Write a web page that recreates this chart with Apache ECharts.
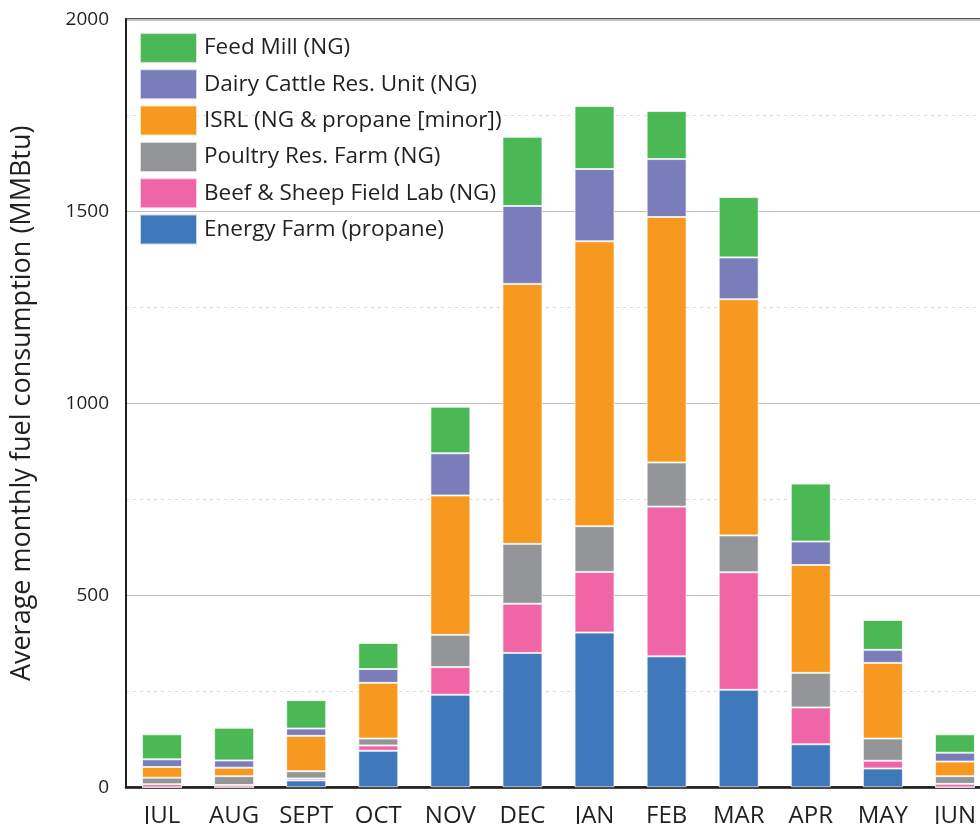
<!DOCTYPE html>
<html>
<head>
<meta charset="utf-8">
<script src="https://cdn.jsdelivr.net/npm/echarts@6/dist/echarts.min.js"></script>
<style>
html,body{margin:0;padding:0;background:#fff;}
#c{width:980px;height:824px;}
</style>
</head>
<body>
<div id="c"></div>
<script>
const months = ['JUL','AUG','SEPT','OCT','NOV','DEC','JAN','FEB','MAR','APR','MAY','JUN'];
const energyFarm = [0, 0, 18, 95, 241, 350, 403, 341, 254, 112, 49, 0];
const beefSheep  = [8, 6, 5, 14, 72, 128, 158, 390, 306, 96, 20, 9];
const poultry    = [17, 23, 19, 18, 84, 156, 119, 115, 96, 90, 58, 20];
const isrl       = [28, 22, 92, 145, 363, 677, 742, 639, 615, 281, 197, 38];
const dairy      = [20, 19, 19, 36, 110, 203, 188, 151, 109, 61, 34, 23];
const feedMill   = [65, 85, 74, 68, 121, 180, 164, 125, 157, 151, 78, 48];
const yTicks = [0, 500, 1000, 1500, 2000];

const names = {
  feed: 'Feed Mill (NG)',
  dairy: 'Dairy Cattle Res. Unit (NG)',
  isrl: 'ISRL (NG & propane [minor])',
  poultry: 'Poultry Res. Farm (NG)',
  beef: 'Beef & Sheep Field Lab (NG)',
  energy: 'Energy Farm (propane)'
};
const FONT = '"Open Sans", "Noto Sans", sans-serif';
const TXT = '#231f20';

function mk(name, data, color) {
  return {
    name, type: 'bar', stack: 'total', data, barWidth: 40,
    itemStyle: { color, borderColor: 'rgba(255,255,255,0.7)', borderWidth: 1 }
  };
}

const chart = echarts.init(document.getElementById('c'));
chart.setOption({
  animation: false,
  backgroundColor: '#fff',
  textStyle: { fontFamily: FONT, color: TXT },
  grid: { left: 126, top: 19.3, width: 865, height: 768, show: true, borderColor: '#231f20', borderWidth: 2,
    containLabel: false, outerBoundsMode: 'none' },
  legend: {
    orient: 'vertical', left: 139, top: 32, padding: 0,
    itemWidth: 57, itemHeight: 30, itemGap: 4.3,
    icon: 'rect',
    data: [names.feed, names.dairy, names.isrl, names.poultry, names.beef, names.energy],
    textStyle: { fontFamily: FONT, fontSize: 22.5, color: TXT, padding: [0, 0, 0, 2] }
  },
  xAxis: {
    type: 'category', data: months,
    axisLine: { lineStyle: { color: '#231f20', width: 2.5 } },
    axisTick: { show: false },
    axisLabel: { fontFamily: FONT, fontSize: 24, color: TXT, margin: 17, interval: 0, hideOverlap: false }
  },
  yAxis: {
    type: 'value', min: 0, max: 2000, interval: 500,
    name: 'Average monthly fuel consumption (MMBtu)',
    nameLocation: 'middle', nameGap: 90, nameMoveOverlap: false,
    nameTextStyle: { fontFamily: FONT, fontSize: 27, color: TXT },
    axisLine: { show: true, lineStyle: { color: '#231f20', width: 2 } },
    axisTick: { show: false },
    axisLabel: { fontFamily: FONT, fontSize: 19, color: TXT, margin: 17,
      formatter: v => yTicks.includes(v) ? String(v) : '' },
    splitLine: { show: true, lineStyle: { color: '#bcbec0', width: 1.2 } },
    minorTick: { show: false, splitNumber: 2 },
    minorSplitLine: { show: true, lineStyle: { color: '#d9dadb', type: [3, 4], width: 1 } }
  },
  series: [
    mk(names.energy, energyFarm, '#3f79bc'),
    mk(names.beef, beefSheep, '#ef65a5'),
    mk(names.poultry, poultry, '#939598'),
    mk(names.isrl, isrl, '#f7981f'),
    mk(names.dairy, dairy, '#7a7dba'),
    mk(names.feed, feedMill, '#4ab854')
  ]
});
</script>
</body>
</html>
